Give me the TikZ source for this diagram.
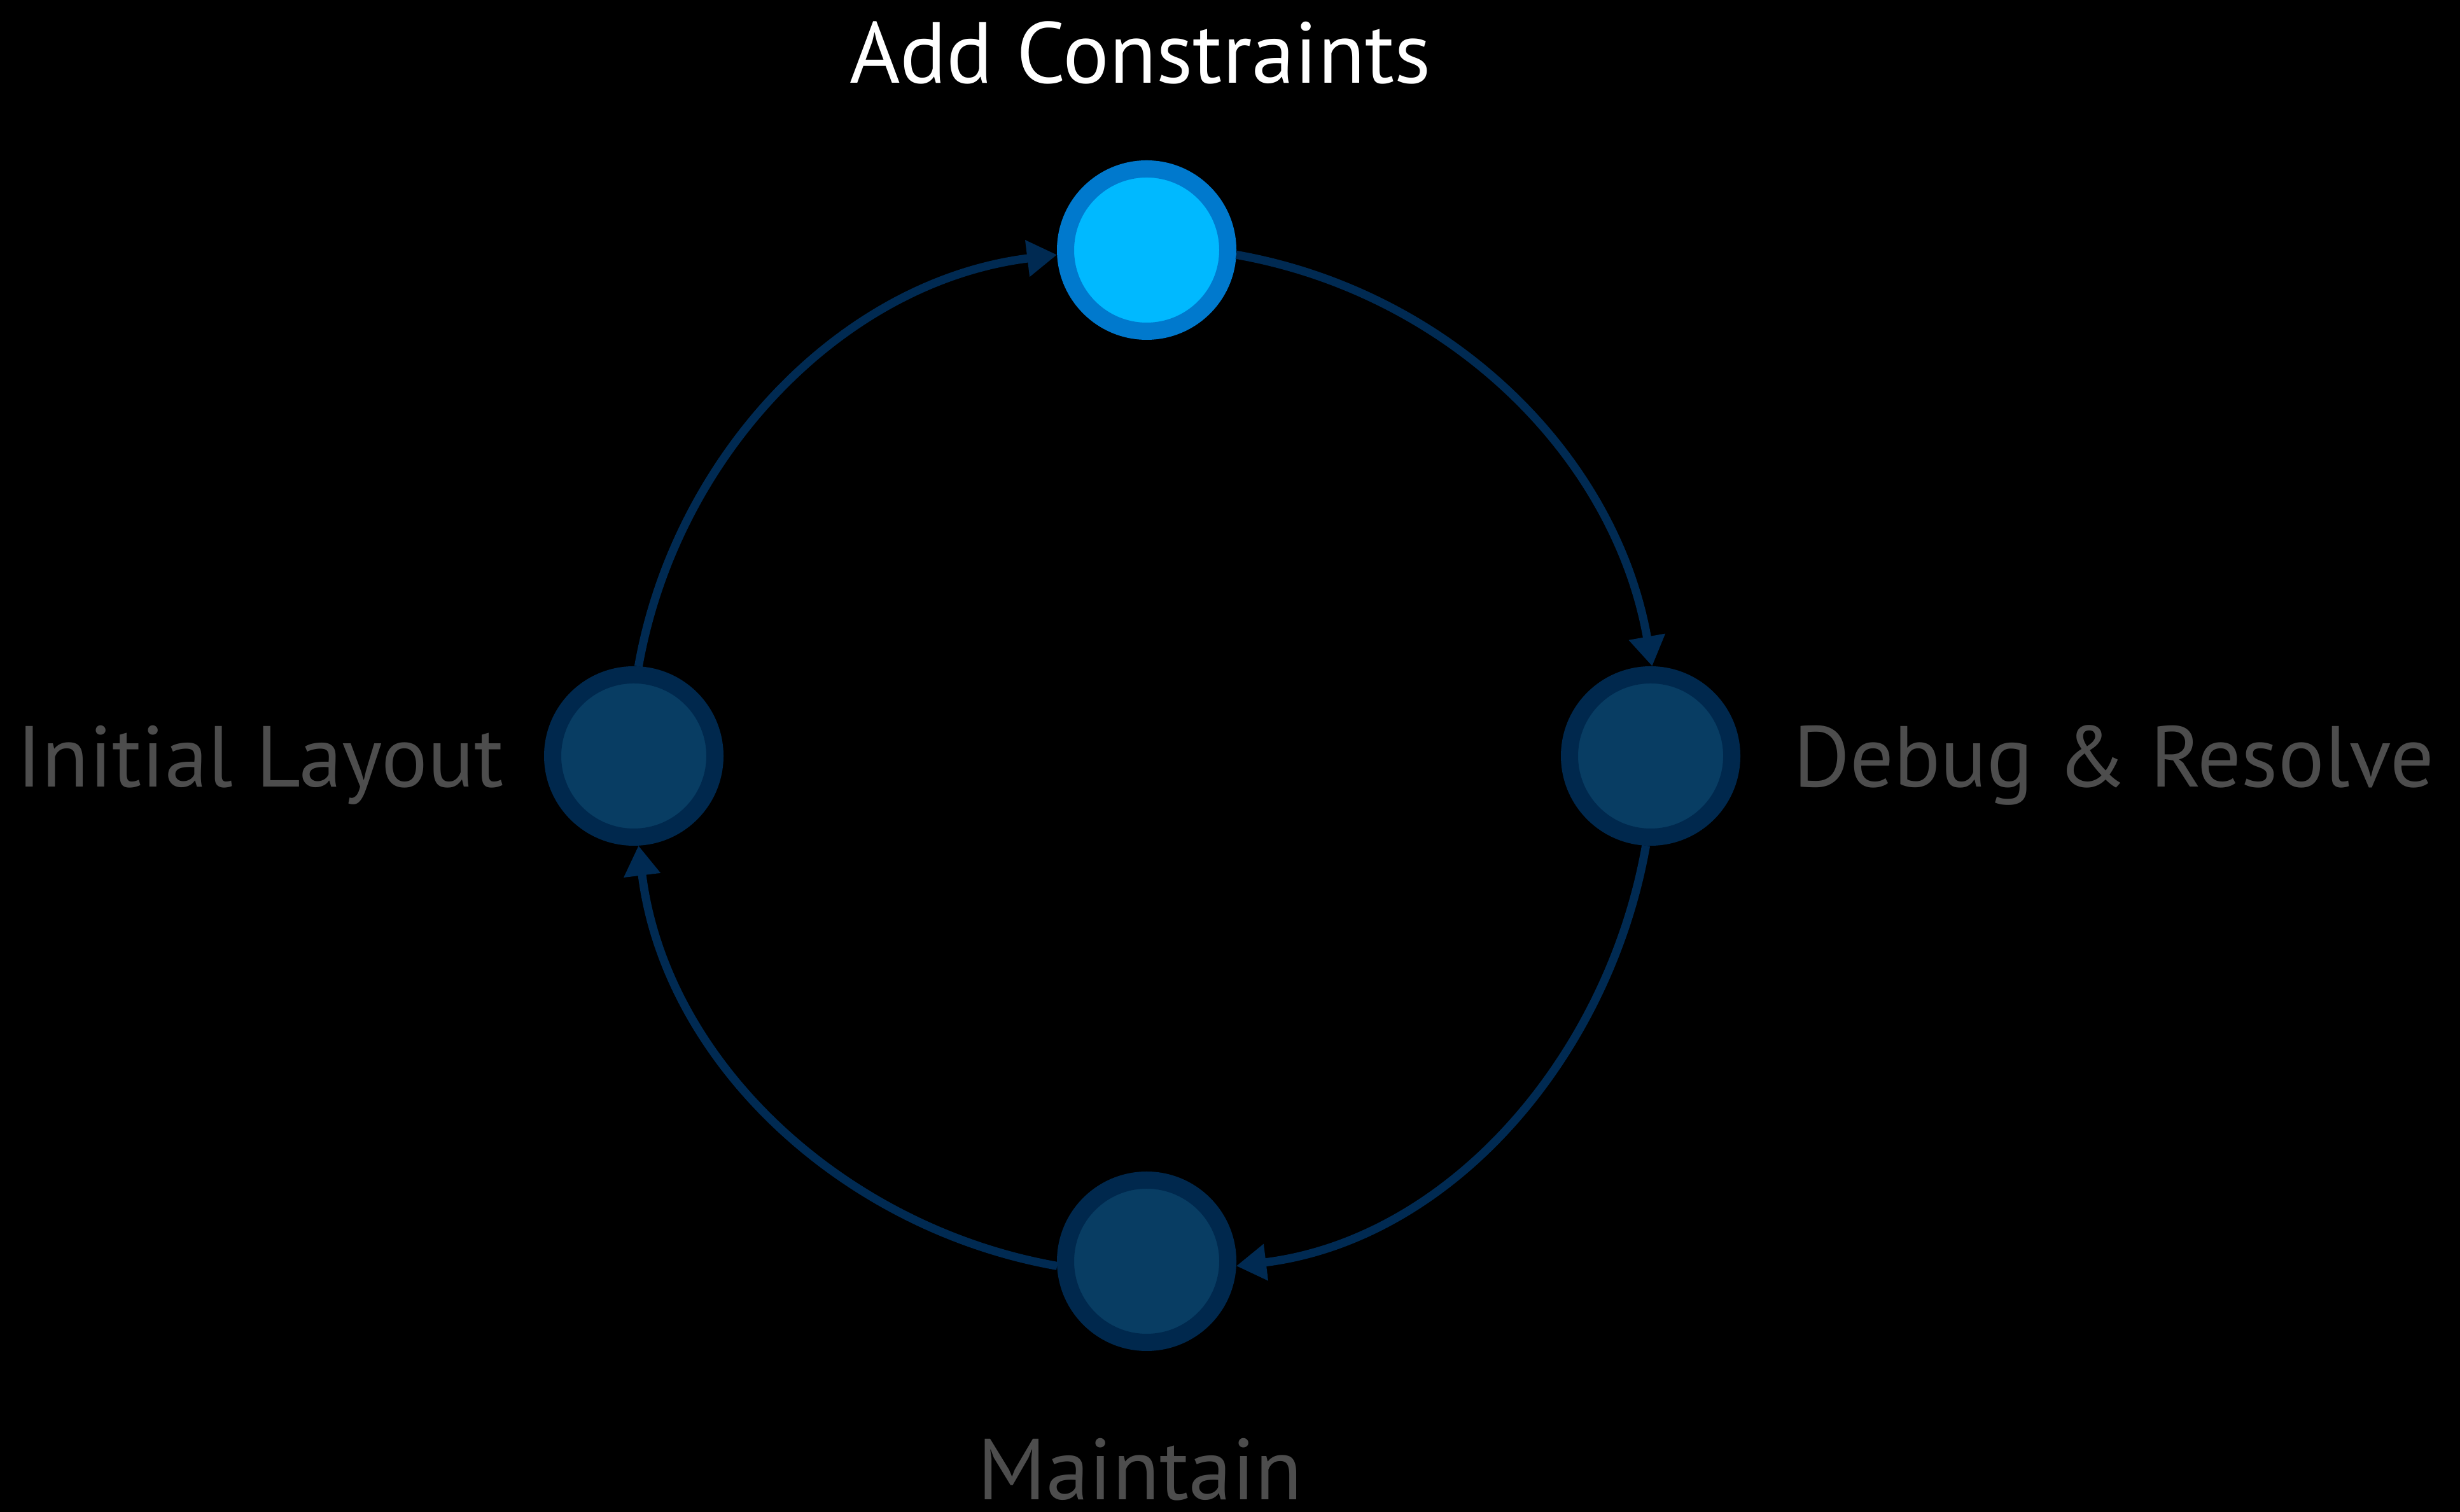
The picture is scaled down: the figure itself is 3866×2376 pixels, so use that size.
\documentclass[tikz,border=0pt]{standalone}
\usepackage{fontspec}
\setmainfont{PT Sans}
\usetikzlibrary{arrows.meta}
\definecolor{conn}{HTML}{002A52}
\definecolor{ringdark}{HTML}{00284D}
\definecolor{filldark}{HTML}{083D63}
\definecolor{ringlight}{HTML}{0079CD}
\definecolor{filllight}{HTML}{00B9FF}
\definecolor{labelgray}{HTML}{4D4D4D}
\tikzset{
  stage/.style={circle, minimum size=255pt, inner sep=0pt, outer sep=13.5pt, line width=27pt, draw=ringdark, fill=filldark},
  activestage/.style={stage, draw=ringlight, fill=filllight},
  conn/.style={line width=13pt, draw=conn, -{Triangle[length=47pt,width=55pt]}, looseness=0.94},
  lbl/.style={inner sep=0pt, outer sep=0pt, anchor=base, font=\fontsize{136}{150}\selectfont},
}
\begin{document}
\begin{tikzpicture}[x=1pt,y=1pt]
\path[fill=black, use as bounding box] (0,0) rectangle (3866,2376);
\node[activestage] (top) at (1802,1983) {};
\node[stage] (right) at (2594,1188) {};
\node[stage] (bottom) at (1802,394) {};
\node[stage] (left) at (996,1188) {};
\draw[conn] (top.-3) to[out=-10,in=100] (right.89);
\draw[conn] (right.-93) to[out=-100,in=7] (bottom.-3);
\draw[conn] (bottom.183) to[out=170,in=-83] (left.-87);
\draw[conn] (left.87) to[out=80,in=187] (top.183);
\node[lbl, text=white] (ltop) at (1792,2245) {Add Constraints};
\node[lbl, text=labelgray] (lleft) at (409,1139) {Initial Layout};
\node[lbl, text=labelgray] (lright) at (3322,1139) {Debug \& Resolve};
\node[lbl, text=labelgray] (lbottom) at (1792,19) {Maintain};
\end{tikzpicture}
\end{document}
